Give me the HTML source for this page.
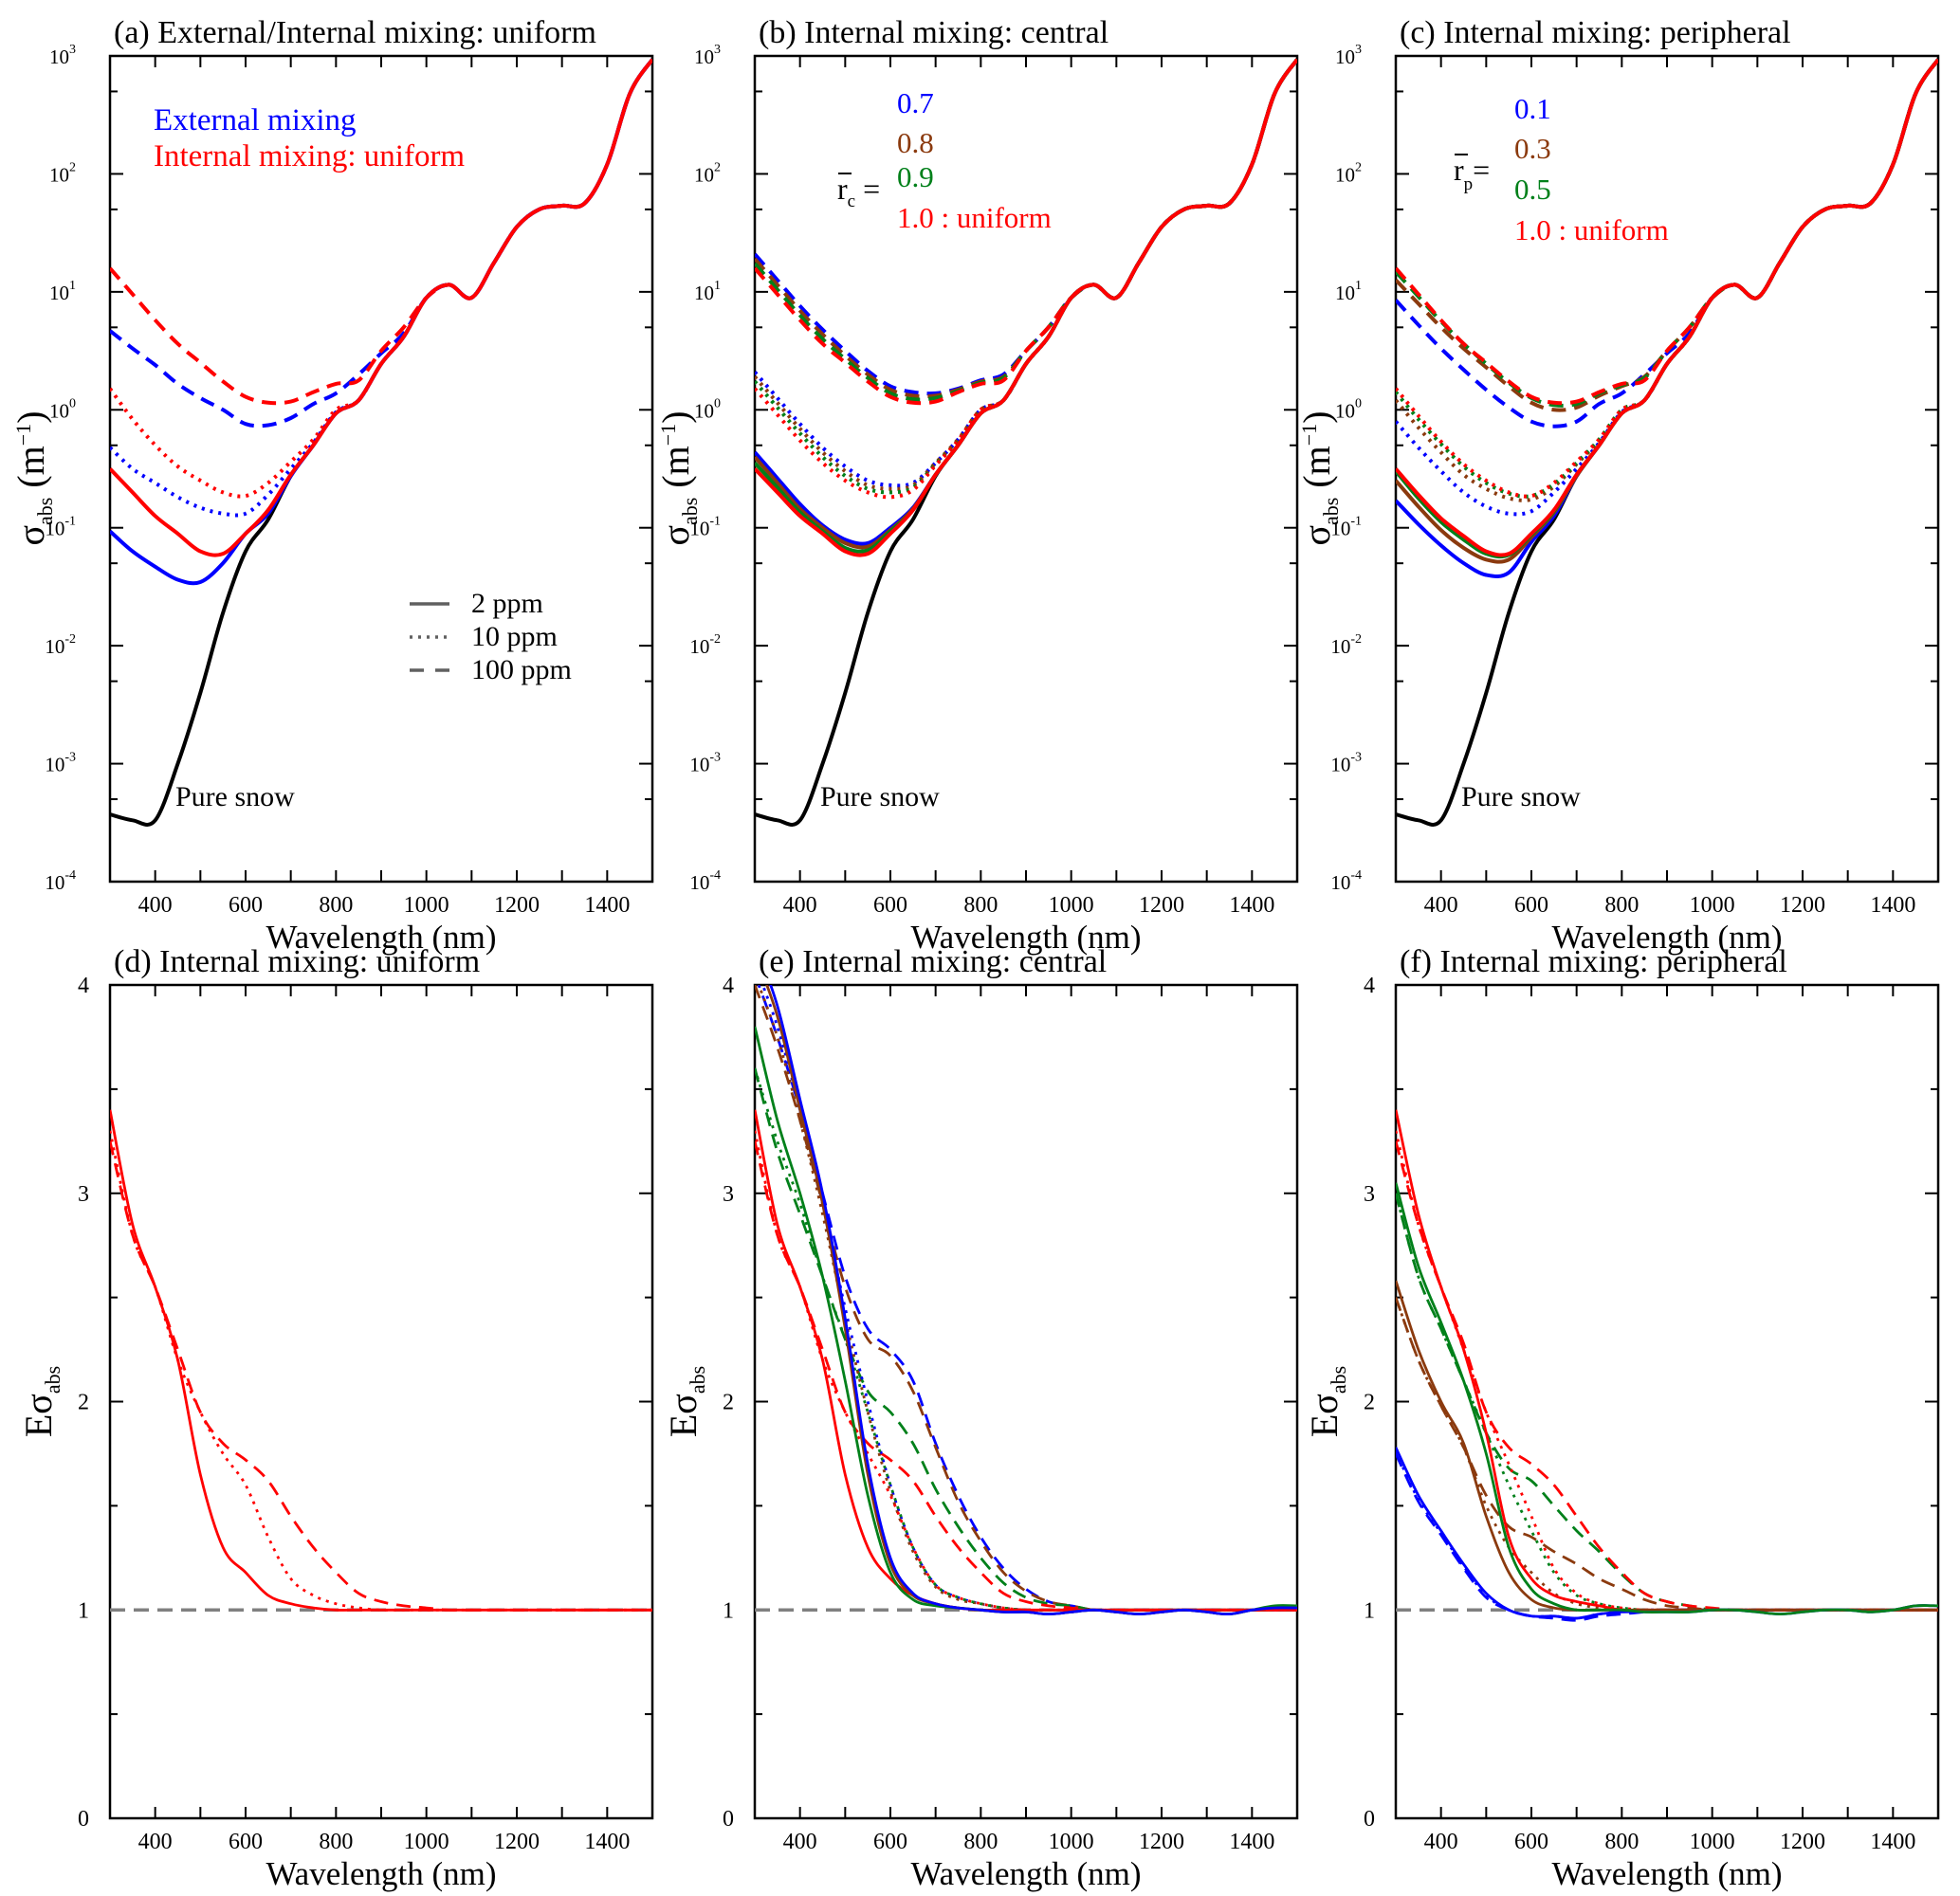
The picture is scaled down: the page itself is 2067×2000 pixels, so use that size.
<!DOCTYPE html>
<html><head><meta charset="utf-8">
<style>
html,body{margin:0;padding:0;background:#fff;}
svg{display:block;font-family:"Liberation Serif","DejaVu Serif",serif;}
</style></head>
<body>
<svg id="fig" width="2067" height="2000" viewBox="0 0 2067 2000" xmlns="http://www.w3.org/2000/svg"></svg>
<script>
// ---------- DATA ----------
const wl = [300,350,400,450,500,550,600,650,700,750,800,850,900,950,1000,1050,1100,1150,1200,1250,1300,1350,1400,1450,1500];
const yTicksLog = [-4,-3,-2,-1,0,1,2,3];
const yTicksLin = [0,1,2,3,4];
const xTicks = [400,600,800,1000,1200,1400];
// pure snow log10(sigma)
const pureSnow = [-3.43,-3.48,-3.48,-3.0,-2.4,-1.72,-1.2,-0.93,-0.56,-0.3,-0.03,0.08,0.39,0.62,0.95,1.06,0.95,1.25,1.55,1.7,1.73,1.75,2.08,2.68,2.97];
// panel a (log10)
const aExt2  = [-1.03,-1.2,-1.33,-1.44,-1.46,-1.3,-1.05,-0.88,-0.56];
const aInt2  = [-0.5,-0.7,-0.9,-1.05,-1.2,-1.22,-1.05,-0.85,-0.55];
const aExt10 = [-0.32,-0.5,-0.62,-0.74,-0.83,-0.88,-0.88,-0.72,-0.5,-0.28,-0.02];
const aInt10 = [0.18,-0.08,-0.3,-0.48,-0.6,-0.7,-0.73,-0.62,-0.44,-0.25,0.0];
const aExt100= [0.67,0.52,0.38,0.22,0.1,0.0,-0.12,-0.13,-0.07,0.05,0.14,0.3,0.48,0.65,0.95];
const aInt100= [1.2,0.98,0.76,0.56,0.4,0.24,0.11,0.06,0.07,0.15,0.22,0.25,0.5,0.7,0.95];
// panel b (log10): r_c = 0.7, 0.8, 0.9, 1.0
const bS07=[-0.36,-0.58,-0.8,-0.98,-1.1,-1.13,-1.0,-0.83,-0.55];
const bS08=[-0.4,-0.62,-0.84,-1.0,-1.13,-1.16,-1.02,-0.84,-0.55];
const bS09=[-0.45,-0.66,-0.87,-1.03,-1.17,-1.19,-1.03,-0.85,-0.55];
const bS10=[-0.5,-0.7,-0.9,-1.05,-1.2,-1.22,-1.05,-0.85,-0.55];
const bD07=[0.32,0.1,-0.12,-0.32,-0.48,-0.6,-0.64,-0.62,-0.45,-0.25,0.0];
const bD08=[0.28,0.06,-0.16,-0.36,-0.52,-0.64,-0.67,-0.64,-0.45,-0.25,0.0];
const bD09=[0.24,0.02,-0.2,-0.4,-0.56,-0.67,-0.7,-0.66,-0.46,-0.26,0.0];
const bD10=[0.18,-0.04,-0.26,-0.45,-0.6,-0.7,-0.74,-0.68,-0.47,-0.26,0.0];
const bH07=[1.32,1.1,0.88,0.68,0.5,0.33,0.2,0.15,0.14,0.18,0.25,0.3,0.5,0.7,0.95];
const bH08=[1.28,1.06,0.84,0.64,0.46,0.3,0.17,0.12,0.12,0.17,0.24,0.28,0.5,0.7,0.95];
const bH09=[1.24,1.02,0.8,0.6,0.43,0.27,0.14,0.09,0.1,0.16,0.23,0.27,0.5,0.7,0.95];
const bH10=[1.2,0.98,0.76,0.56,0.4,0.24,0.11,0.06,0.07,0.15,0.22,0.25,0.5,0.7,0.95];
// panel c (log10): r_p = 0.1, 0.3, 0.5, 1.0
const cS01=[-0.77,-0.97,-1.15,-1.3,-1.4,-1.38,-1.12,-0.9,-0.56];
const cS03=[-0.6,-0.82,-1.02,-1.17,-1.27,-1.27,-1.08,-0.87,-0.56];
const cS05=[-0.52,-0.75,-0.95,-1.1,-1.22,-1.23,-1.06,-0.86,-0.55];
const cS10=[-0.5,-0.72,-0.92,-1.07,-1.2,-1.22,-1.05,-0.85,-0.55];
const cD01=[-0.1,-0.32,-0.52,-0.7,-0.82,-0.88,-0.86,-0.7,-0.5,-0.28,-0.02];
const cD03=[0.08,-0.15,-0.36,-0.55,-0.67,-0.75,-0.76,-0.65,-0.46,-0.26,0.0];
const cD05=[0.15,-0.08,-0.29,-0.48,-0.62,-0.71,-0.73,-0.63,-0.45,-0.25,0.0];
const cD10=[0.18,-0.05,-0.27,-0.46,-0.6,-0.7,-0.73,-0.62,-0.44,-0.25,0.0];
const cH01=[0.93,0.72,0.52,0.34,0.17,0.02,-0.1,-0.14,-0.1,0.05,0.14,0.3,0.48,0.65,0.95];
const cH03=[1.1,0.9,0.7,0.52,0.36,0.2,0.06,0.0,0.02,0.12,0.2,0.28,0.5,0.7,0.95];
const cH05=[1.17,0.96,0.75,0.56,0.39,0.23,0.1,0.04,0.05,0.14,0.21,0.27,0.5,0.7,0.95];
const cH10=[1.2,0.98,0.76,0.56,0.4,0.24,0.11,0.06,0.07,0.15,0.22,0.25,0.5,0.7,0.95];
// panel d (linear E)
const dS=[3.4,2.85,2.55,2.2,1.65,1.3,1.18,1.07,1.03,1.01,1.0];
const dD=[3.3,2.8,2.55,2.2,1.95,1.75,1.6,1.35,1.15,1.07,1.03,1.01];
const dH=[3.25,2.8,2.55,2.25,1.95,1.8,1.72,1.62,1.45,1.3,1.18,1.08,1.04,1.02,1.01];
// panel e
const eS07=[4.2,3.9,3.45,3.0,2.4,1.7,1.25,1.08,1.03,1.01,1.0,0.99,0.99,0.98,0.99,1.0,0.99,0.98,0.99,1.0,0.99,0.98,1.0,1.01,1.01];
const eS08=[4.15,3.85,3.4,2.95,2.35,1.65,1.22,1.07,1.03,1.01,1.0,0.99,0.99,0.98,0.99,1.0,0.99,0.98,0.99,1.0,0.99,0.98,1.0,1.01,1.01];
const eS09=[3.8,3.35,3.0,2.6,2.1,1.55,1.18,1.05,1.02,1.01,1.0,0.99,0.99,0.98,0.99,1.0,0.99,0.98,0.99,1.0,0.99,0.98,1.0,1.02,1.02];
const eS10=[3.4,2.85,2.55,2.2,1.65,1.3,1.15,1.07,1.03,1.01,1.0];
const eD07=[4.1,3.8,3.4,2.95,2.45,2.0,1.6,1.3,1.12,1.06,1.03,1.01];
const eD08=[4.05,3.75,3.35,2.9,2.4,1.95,1.57,1.28,1.11,1.05,1.03,1.01];
const eD09=[3.6,3.25,2.95,2.6,2.3,1.95,1.6,1.3,1.12,1.06,1.03,1.01];
const eD10=[3.3,2.8,2.55,2.2,1.95,1.75,1.55,1.3,1.12,1.06,1.03,1.01];
const eH07=[4.05,3.75,3.4,3.0,2.6,2.35,2.25,2.1,1.8,1.55,1.35,1.2,1.1,1.04,1.02];
const eH08=[4.0,3.7,3.35,2.95,2.55,2.3,2.22,2.05,1.78,1.52,1.33,1.18,1.09,1.04,1.02];
const eH09=[3.6,3.2,2.9,2.6,2.3,2.05,1.95,1.8,1.58,1.4,1.25,1.13,1.06,1.03,1.02];
const eH10=[3.25,2.8,2.55,2.25,1.95,1.8,1.72,1.62,1.45,1.3,1.18,1.08,1.04,1.02,1.01];
// panel f
const fS01=[1.78,1.55,1.38,1.22,1.08,1.0,0.97,0.97,0.96,0.98,0.99,0.99,0.99,0.99,1.0,1.0,0.99,0.98,0.99,1.0,1.0,0.99,1.0,1.02,1.02];
const fS03=[2.58,2.25,2.0,1.8,1.45,1.18,1.05,1.01,1.0];
const fS05=[3.05,2.65,2.38,2.1,1.75,1.3,1.1,1.03,1.0,1.0,1.0,0.99,0.99,0.99,1.0,1.0,0.99,0.98,0.99,1.0,1.0,0.99,1.0,1.02,1.02];
const fS10=[3.4,2.9,2.55,2.25,1.85,1.35,1.15,1.07,1.04,1.02,1.0];
const fD01=[1.76,1.53,1.37,1.21,1.07,1.0,0.97,0.97,0.96,0.98,0.99];
const fD03=[2.5,2.2,1.98,1.78,1.5,1.3,1.18,1.08,1.03,1.01];
const fD05=[3.0,2.6,2.35,2.1,1.85,1.6,1.38,1.18,1.07,1.03,1.01];
const fD10=[3.3,2.85,2.55,2.25,1.95,1.7,1.45,1.2,1.08,1.03,1.01];
const fH01=[1.75,1.52,1.36,1.2,1.06,1.0,0.97,0.96,0.95,0.97,0.98,0.99];
const fH03=[2.5,2.2,1.98,1.78,1.55,1.4,1.35,1.28,1.22,1.15,1.1,1.05,1.02,1.01];
const fH05=[3.0,2.6,2.35,2.1,1.85,1.68,1.62,1.5,1.38,1.28,1.17,1.08,1.04,1.02];
const fH10=[3.25,2.85,2.55,2.28,1.95,1.78,1.7,1.6,1.45,1.3,1.18,1.08,1.04,1.02,1.01];

// ---------- DRAWING ----------
const NS="http://www.w3.org/2000/svg";
const svg=document.getElementById('fig');
const BLUE='#0000ff',RED='#ff0000',BROWN='#8b3a0e',GREEN='#00801a',BLACK='#000';
const DASH='15 9',DOT='3 6';
function el(tag,attrs,parent){const e=document.createElementNS(NS,tag);for(const k in attrs)e.setAttribute(k,attrs[k]);(parent||svg).appendChild(e);return e;}
function logFull(a){return a.concat(pureSnow.slice(a.length));}
function linFull(a){const r=a.slice();while(r.length<wl.length)r.push(1.0);return r;}

const lefts=[116,796,1472], W=572;
const rows=[{top:59,bot:930,log:true},{top:1039,bot:1918,log:false}];

function makePanel(col,row){
  const L=lefts[col],R=L+W,T=rows[row].top,B=rows[row].bot,isLog=rows[row].log;
  const xs=v=>L+(v-300)/1200*W;
  const ys=isLog?(v=>B-(v+4)/7*(B-T)):(v=>B-v/4*(B-T));
  return {L,R,T,B,xs,ys,isLog};
}

function path(p,vals,color,dash,w,name){
  const pts=wl.map((x,i)=>[p.xs(x),p.ys(vals[i])]);
  let d='M'+pts[0][0].toFixed(1)+','+pts[0][1].toFixed(1);
  for(let i=0;i<pts.length-1;i++){
    const p0=pts[i-1]||pts[i],p1=pts[i],p2=pts[i+1],p3=pts[i+2]||p2;
    const c1=[p1[0]+(p2[0]-p0[0])/6,p1[1]+(p2[1]-p0[1])/6];
    const c2=[p2[0]-(p3[0]-p1[0])/6,p2[1]-(p3[1]-p1[1])/6];
    d+='C'+c1[0].toFixed(1)+','+c1[1].toFixed(1)+' '+c2[0].toFixed(1)+','+c2[1].toFixed(1)+' '+p2[0].toFixed(1)+','+p2[1].toFixed(1);
  }
  const e=el('path',{d,fill:'none',stroke:color,'stroke-width':w,'stroke-linejoin':'round','clip-path':'url(#clip'+p.id+')'},p.g);
  if(dash)e.setAttribute('stroke-dasharray',dash);
  
  
}

function text(x,y,s,size,attrs,name,parent){
  const t=el('text',Object.assign({x,y,'font-size':size,fill:'#000'},attrs||{}),parent);
  t.textContent=s;
  
  
  return t;
}

function axes(p,title){
  const g=p.g;
  const cp=el('clipPath',{id:'clip'+p.id},g);el('rect',{x:p.L,y:p.T,width:W,height:p.B-p.T},cp);
  const fr=el('rect',{x:p.L,y:p.T,width:W,height:p.B-p.T,fill:'none',stroke:'#000','stroke-width':2.5},g);
  
  
  const ax=el('g',{},g);
  
  
  for(let v=300;v<=1500;v+=100){
    const x=p.xs(v),len=12;
    el('line',{x1:x,y1:p.B,x2:x,y2:p.B-len,stroke:'#000','stroke-width':2},ax);
    el('line',{x1:x,y1:p.T,x2:x,y2:p.T+len,stroke:'#000','stroke-width':2},ax);
  }
  xTicks.forEach(v=>text(p.xs(v),p.B+32,String(v),24,{'text-anchor':'middle'},'x-tick-label',ax));
  text((p.L+p.R)/2,p.B+70,'Wavelength (nm)',35,{'text-anchor':'middle'},'x-axis-title',ax);
  const ay=el('g',{},g);
  
  
  if(p.isLog){
    yTicksLog.forEach(v=>{
      const y=p.ys(v);
      el('line',{x1:p.L,y1:y,x2:p.L+14,y2:y,stroke:'#000','stroke-width':2},ay);
      el('line',{x1:p.R,y1:y,x2:p.R-14,y2:y,stroke:'#000','stroke-width':2},ay);
      if(v<3){const ym=p.ys(v+Math.log10(5));
        el('line',{x1:p.L,y1:ym,x2:p.L+8,y2:ym,stroke:'#000','stroke-width':2},ay);
        el('line',{x1:p.R,y1:ym,x2:p.R-8,y2:ym,stroke:'#000','stroke-width':2},ay);}
      const t=text(p.L-36,y+8,'10',21,{'text-anchor':'end'},'y-tick-label',ay);
      const s=el('tspan',{dy:-11,'font-size':14},t);s.textContent=String(v);
    });
    const t=el('text',{transform:`translate(${p.L-70},${(p.T+p.B)/2+10}) rotate(-90)`,'font-size':40,'text-anchor':'middle'},ay);
    
    
    t.innerHTML='σ<tspan font-size="22" dy="9">abs</tspan><tspan dy="-9"> (m</tspan><tspan font-size="22" dy="-14">−1</tspan><tspan dy="14">)</tspan>';
  } else {
    for(let v=0;v<=4;v+=0.5){
      const y=p.ys(v),len=(v%1===0)?14:8;
      el('line',{x1:p.L,y1:y,x2:p.L+len,y2:y,stroke:'#000','stroke-width':2},ay);
      el('line',{x1:p.R,y1:y,x2:p.R-len,y2:y,stroke:'#000','stroke-width':2},ay);
    }
    yTicksLin.forEach(v=>text(p.L-22,p.ys(v)+8,String(v),24,{'text-anchor':'end'},'y-tick-label',ay));
    const t=el('text',{transform:`translate(${p.L-62},${(p.T+p.B)/2}) rotate(-90)`,'font-size':40,'text-anchor':'middle'},ay);
    
    
    t.innerHTML='Eσ<tspan font-size="22" dy="9">abs</tspan>';
  }
  text(p.L+4,p.T-14,title,34,{},'panel-title',g);
}

const titles=[['(a) External/Internal mixing: uniform','(b) Internal mixing: central','(c) Internal mixing: peripheral'],
              ['(d) Internal mixing: uniform','(e) Internal mixing: central','(f) Internal mixing: peripheral']];
const P={};
['a','b','c','d','e','f'].forEach((k,i)=>{
  const row=Math.floor(i/3),col=i%3;
  const p=makePanel(col,row);p.id=k;
  p.g=el('g',{});
  
  
  axes(p,titles[row][col]);P[k]=p;
});

const TW=4,BW=2.8;
path(P.a,pureSnow,BLACK,null,TW,'pure-snow-line');
path(P.a,logFull(aExt100),BLUE,DASH,TW,'external-100ppm-line');
path(P.a,logFull(aInt100),RED,DASH,TW,'internal-100ppm-line');
path(P.a,logFull(aExt10),BLUE,DOT,TW,'external-10ppm-line');
path(P.a,logFull(aInt10),RED,DOT,TW,'internal-10ppm-line');
path(P.a,logFull(aExt2),BLUE,null,TW,'external-2ppm-line');
path(P.a,logFull(aInt2),RED,null,TW,'internal-2ppm-line');
path(P.b,pureSnow,BLACK,null,TW,'pure-snow-line');
[[bH07,BLUE],[bH08,BROWN],[bH09,GREEN],[bH10,RED]].forEach(s=>path(P.b,logFull(s[0]),s[1],DASH,TW,'central-100ppm-line'));
[[bD07,BLUE],[bD08,BROWN],[bD09,GREEN],[bD10,RED]].forEach(s=>path(P.b,logFull(s[0]),s[1],DOT,TW,'central-10ppm-line'));
[[bS07,BLUE],[bS08,BROWN],[bS09,GREEN],[bS10,RED]].forEach(s=>path(P.b,logFull(s[0]),s[1],null,TW,'central-2ppm-line'));
path(P.c,pureSnow,BLACK,null,TW,'pure-snow-line');
[[cH01,BLUE],[cH03,BROWN],[cH05,GREEN],[cH10,RED]].forEach(s=>path(P.c,logFull(s[0]),s[1],DASH,TW,'peripheral-100ppm-line'));
[[cD01,BLUE],[cD03,BROWN],[cD05,GREEN],[cD10,RED]].forEach(s=>path(P.c,logFull(s[0]),s[1],DOT,TW,'peripheral-10ppm-line'));
[[cS01,BLUE],[cS03,BROWN],[cS05,GREEN],[cS10,RED]].forEach(s=>path(P.c,logFull(s[0]),s[1],null,TW,'peripheral-2ppm-line'));
['d','e','f'].forEach(k=>{
  const p=P[k];const y=p.ys(1);
  const l=el('line',{x1:p.L,y1:y,x2:p.R,y2:y,stroke:'#808080','stroke-width':3.5,'stroke-dasharray':'16 9'},p.g);
  
  
});
path(P.d,linFull(dH),RED,DASH,BW,'uniform-100ppm-line');
path(P.d,linFull(dD),RED,DOT,BW,'uniform-10ppm-line');
path(P.d,linFull(dS),RED,null,BW,'uniform-2ppm-line');
[[eH07,BLUE],[eH08,BROWN],[eH09,GREEN],[eH10,RED]].forEach(s=>path(P.e,linFull(s[0]),s[1],DASH,BW,'central-100ppm-enhancement'));
[[eD07,BLUE],[eD08,BROWN],[eD09,GREEN],[eD10,RED]].forEach(s=>path(P.e,linFull(s[0]),s[1],DOT,BW,'central-10ppm-enhancement'));
[[eS10,RED],[eS09,GREEN],[eS08,BROWN],[eS07,BLUE]].forEach(s=>path(P.e,linFull(s[0]),s[1],null,BW,'central-2ppm-enhancement'));
[[fH01,BLUE],[fH03,BROWN],[fH05,GREEN],[fH10,RED]].forEach(s=>path(P.f,linFull(s[0]),s[1],DASH,BW,'peripheral-100ppm-enhancement'));
[[fD01,BLUE],[fD03,BROWN],[fD05,GREEN],[fD10,RED]].forEach(s=>path(P.f,linFull(s[0]),s[1],DOT,BW,'peripheral-10ppm-enhancement'));
[[fS10,RED],[fS03,BROWN],[fS01,BLUE],[fS05,GREEN]].forEach(s=>path(P.f,linFull(s[0]),s[1],null,BW,'peripheral-2ppm-enhancement'));

text(162,137,'External mixing',33,{fill:BLUE},'legend-external-mixing');
text(162,175,'Internal mixing: uniform',33,{fill:RED},'legend-internal-uniform');
[['2 ppm',null,646],['10 ppm',DOT,681],['100 ppm',DASH,716]].forEach(r=>{
  const l=el('line',{x1:432,y1:r[2]-9,x2:474,y2:r[2]-9,stroke:'#606060','stroke-width':3.5});
  if(r[1])l.setAttribute('stroke-dasharray',r[1]==DASH?'15 12':'3 6');
  
  
  text(497,r[2],r[0],30,{},'legend-entry');
});
[185,865,1541].forEach(x=>text(x,850,'Pure snow',30,{},'pure-snow-label'));
[['0.7',BLUE,119],['0.8',BROWN,161],['0.9',GREEN,197],['1.0 : uniform',RED,240]].forEach(r=>text(946,r[2],r[0],31,{fill:r[1]},'legend-entry-rc'));
{const t=el('text',{x:883,y:210,'font-size':32});
 t.innerHTML='r<tspan font-size="19" dy="8">c</tspan><tspan dy="-8"> =</tspan>';
 const l=el('line',{x1:884,y1:183,x2:898,y2:183,stroke:'#000','stroke-width':2});}
[['0.1',BLUE,125],['0.3',BROWN,167],['0.5',GREEN,210],['1.0 : uniform',RED,253]].forEach(r=>text(1597,r[2],r[0],31,{fill:r[1]},'legend-entry-rp'));
{const t=el('text',{x:1533,y:190,'font-size':32});
 t.innerHTML='r<tspan font-size="19" dy="10">p</tspan><tspan dy="-10">=</tspan>';
 const l=el('line',{x1:1534,y1:163,x2:1548,y2:163,stroke:'#000','stroke-width':2});}
</script>
</body></html>
